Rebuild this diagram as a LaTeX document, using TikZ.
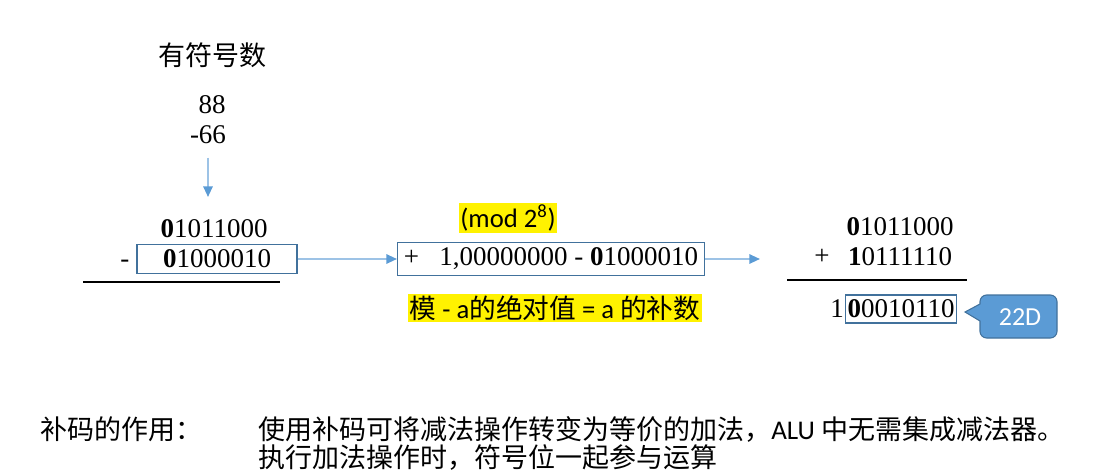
\documentclass[tikz,border=0pt]{standalone}
\usepackage{fontspec}
\setmainfont{Liberation Serif}
\newfontfamily\cali{Carlito}
\newfontfamily\cjk{Noto Sans CJK SC}
\usetikzlibrary{arrows.meta,positioning}
\newcommand\zhs[1]{{\cjk #1}}
\definecolor{boxblue}{HTML}{41719C}
\definecolor{flowline}{HTML}{9DC3E6}
\definecolor{flowhead}{HTML}{5B9BD5}
\tikzset{
  num/.style={font=\fontsize{20.25}{24}\selectfont, inner sep=0pt},
  numbox/.style={num, draw=boxblue, line width=1pt, inner sep=2pt, minimum height=22pt},
  flow/.style={draw=flowline, line width=1.5pt, -{Triangle[length=8pt,width=7pt,color=flowhead]}},
  hl/.style={fill=yellow, font=\cali\fontsize{20}{24}\selectfont, inner sep=1pt},
  zhtext/.style={font=\cjk\fontsize{20.25}{24}\selectfont, inner sep=0pt}
}
\begin{document}
\begin{tikzpicture}[x=0.75pt,y=-0.75pt]
\useasboundingbox (0,0) rectangle (1101,471);

 % signed numbers
 \node[zhtext] (title) at (212,55) {有符号数};
 \node[num] (n88) at (212,105) {88};
 \node[num] (n66) at (208,135) {-66};
 \coordinate (downend) at (208,197);
 \draw[flow, shorten <=10pt] (n66.south) -- (downend);

 % left: subtraction
 \node[num] (lefttop) at (214,229) {\textbf{0}1011000};
 \node[numbox, minimum width=120pt] (leftbox) at (217,259) {\textbf{0}1000010};
 \node[num, anchor=base east] (minus) at ([xshift=-5pt]leftbox.base west) {-};
 \draw[line width=1pt] (83,282) -- (280,282);

 % middle: modulus
 \node[hl] (modnote) at (508,218) {(mod 2\textsuperscript{8})};
 \node[numbox, minimum width=230pt, anchor=west, inner sep=4pt] (midbox) at (397,259)
    {+\hspace{0.75em}1,00000000 - \textbf{0}1000010};
 \node[hl] (rulenote) at (555,308) {\zhs{模} - a\zhs{的绝对值} = a \zhs{的补数}};
 \coordinate (rightend) at (760,259);
 \draw[flow] (leftbox) -- (midbox);
 \draw[flow] (midbox) -- (rightend);

 % right: addition
 \node[num] (righttop) at (900,227) {\textbf{0}1011000};
 \node[num] (rightmid) at (900,257) {\textbf{1}0111110};
 \node[num] (plus) at (822,257) {+};
 \draw[line width=1pt] (787,280) -- (967,280);
 \node[numbox, inner sep=1.5pt, minimum height=21pt] (result) at (901,309) {\textbf{0}0010110};
 \node[num, left=0.5pt of result] (carry) {1};

 % callout
 \coordinate (tip) at (965,312);
 \filldraw[fill=flowhead, draw=boxblue, line width=0.8pt] (tip) -- (980,321) [rounded corners=5pt] -- (980,338) -- (1057,338) -- (1057,295) -- (980,295) [sharp corners] -- (980,304) -- cycle;
 \node[text=white, font=\cali\fontsize{19.5}{22}\selectfont] (val) at (1020,317) {22D};

 % note
 \node[zhtext, anchor=west] (notelabel) at (40,429) {补码的作用：};
 \node[zhtext, anchor=west] (noteone) at (258,429) {使用补码可将减法操作转变为等价的加法，{\cali ALU} 中无需集成减法器。};
 \node[zhtext, anchor=west] (notetwo) at (258,458) {执行加法操作时，符号位一起参与运算};

\end{tikzpicture}
\end{document}
